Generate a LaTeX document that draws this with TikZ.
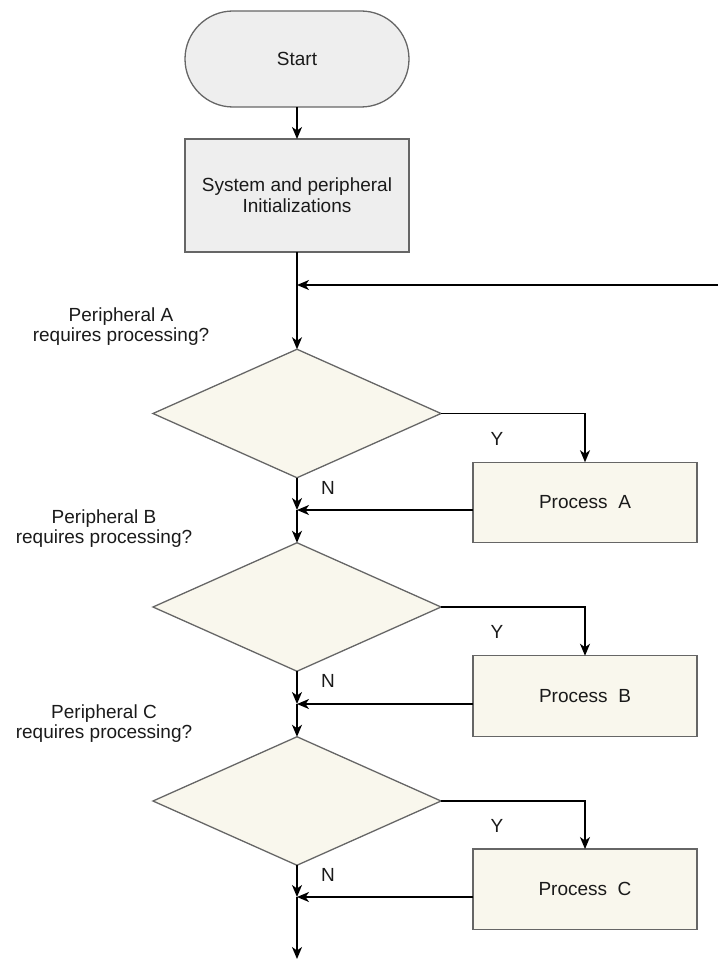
\documentclass[tikz,border=0pt]{standalone}
\usepackage{fontspec}
\setmainfont{Liberation Sans}
\usetikzlibrary{shapes.geometric,arrows.meta}
\definecolor{boxgray}{HTML}{EEEEEE}
\definecolor{cream}{HTML}{F9F7ED}
\definecolor{edgegray}{HTML}{666666}
\definecolor{ink}{HTML}{1A1A1A}

\begin{document}
\begin{tikzpicture}[x=1pt,y=-1pt,
  every node/.style={font=\fontsize{19}{20.7}\selectfont, text=ink, outer sep=0pt, inner sep=0pt},
  shapebox/.style={draw=edgegray, line width=1.3pt},
  term/.style={shapebox, fill=boxgray, rounded corners=48pt, minimum width=224pt, minimum height=96pt},
  initbox/.style={shapebox, fill=boxgray, minimum width=224pt, minimum height=113pt, align=center},
  decision/.style={shapebox, diamond, fill=cream, minimum width=288pt, minimum height=128.5pt},
  procbox/.style={shapebox, fill=cream, minimum width=224pt, minimum height=80.5pt},
  question/.style={align=center},
  arr/.style={draw=black, line width=1.5pt, -{Stealth[length=12pt,width=10pt,inset=3.5pt]}},
]
\useasboundingbox (0,0) rectangle (718,960);

% start and initialisation
\node[term] (start) at (297,59) {Start};
\node[initbox] (init) at (297,195.5) {System and peripheral\\Initializations};

% decisions
\node[decision] (decA) at (297,413.5) {};
\node[decision] (decB) at (297,607) {};
\node[decision] (decC) at (297,801) {};

% process boxes
\node[procbox] (procA) at (585,502.5) {Process\ \ A};
\node[procbox] (procB) at (585,696) {Process\ \ B};
\node[procbox] (procC) at (585,889.3) {Process\ \ C};

% questions above each decision
\node[question] (qA) at (121,326.7) {Peripheral A\\requires processing?};
\node[question] (qB) at (104,528.7) {Peripheral B\\requires processing?};
\node[question] (qC) at (104,723.7) {Peripheral C\\requires processing?};

% branch labels
\node (yA) at (497,438.5) {Y};
\node (yB) at (497,632) {Y};
\node (yC) at (497,826) {Y};
\node (nA) at (328,487.5) {N};
\node (nB) at (328,681) {N};
\node (nC) at (328,874.5) {N};

% junction points on the main line
\coordinate (loop) at (718,285);
\coordinate (jA) at (297,510);
\coordinate (jB) at (297,704);
\coordinate (jC) at (297,897);
\coordinate (finish) at (297,959);

% main flow
\draw[arr] (start) -- (init);
\draw[arr] (init) -- (decA);
\draw[arr] (loop) -- (loop -| decA.north);

\draw[arr] (decA.east) -| (procA.north);
\draw[arr] (decA.south) -- (jA);
\draw[arr] (procA.west |- jA) -- (jA);
\draw[arr] (jA) -- (decB.north);

\draw[arr] (decB.east) -| (procB.north);
\draw[arr] (decB.south) -- (jB);
\draw[arr] (procB.west |- jB) -- (jB);
\draw[arr] (jB) -- (decC.north);

\draw[arr] (decC.east) -| (procC.north);
\draw[arr] (decC.south) -- (jC);
\draw[arr] (procC.west |- jC) -- (jC);
\draw[arr] (jC) -- (finish);
\end{tikzpicture}
\end{document}
